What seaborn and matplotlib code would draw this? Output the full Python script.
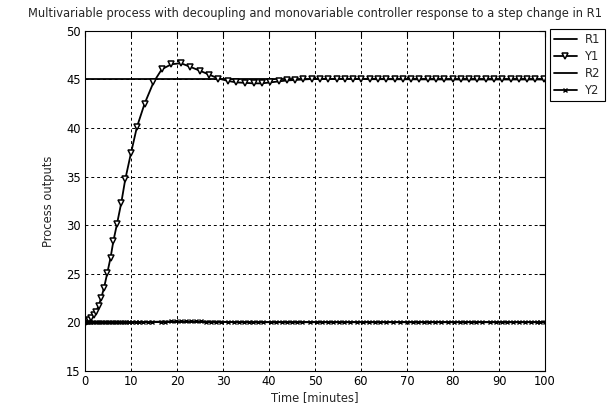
import matplotlib
matplotlib.use("Agg")
import matplotlib.pyplot as plt
import seaborn as sns

# ---- data ----
r1_t = [0, 100]
r1_v = [45, 45]
r2_t = [0, 100]
r2_v = [20, 20]

y1_t = [0.0, 0.3, 0.6, 0.9, 1.37, 1.96, 2.46, 2.96, 3.54, 4.13, 4.85, 5.57, 6.2, 6.96,
        7.9, 8.76, 10.0, 11.3, 12.96, 14.9, 16.7, 18.8, 20.9, 22.9, 25.0, 27.0, 29.0,
        31.1, 32.9, 34.9, 36.7, 38.5, 40.3, 42.1, 43.9, 45.7, 47.5, 49.3, 51.1, 52.9,
        54.7, 56.5, 58.3, 60.1, 61.9, 63.7, 65.5, 67.3, 69.1, 70.9, 72.7, 74.5, 76.3,
        78.1, 79.9, 81.7, 83.5, 85.3, 87.1, 88.9, 90.7, 92.5, 94.3, 96.1, 97.9, 99.7]
y1_v = [20.0, 20.02, 20.08, 20.2, 20.4, 20.7, 21.1, 21.7, 22.5, 23.5, 25.05, 26.65, 28.4, 30.1,
        32.3, 34.7, 37.4, 40.1, 42.5, 44.7, 46.05, 46.57, 46.67, 46.3, 45.9, 45.5, 45.1,
        44.85, 44.7, 44.65, 44.6, 44.6, 44.7, 44.8, 44.9, 44.95, 45.0, 45.05, 45.05, 45.05,
        45.05, 45.05, 45.05, 45.05, 45.03, 45.03, 45.03, 45.02, 45.02, 45.02, 45.01, 45.01, 45.01,
        45.0, 45.0, 45.0, 45.0, 45.0, 45.0, 45.0, 45.0, 45.0, 45.0, 45.0, 45.0, 45.0]

y2_t = [0.0, 0.3, 0.6, 1.0, 1.4, 1.8, 2.3, 2.8, 3.3, 3.8, 4.3, 4.8, 5.3, 5.8, 6.3, 6.8,
        7.3, 7.8, 8.4, 9.0, 9.6, 10.3, 11.0, 11.8, 12.6, 13.6, 14.5, 16.5, 17.5, 18.6,
        19.7, 20.8, 21.9, 23.0, 24.1, 25.2, 26.3, 27.4, 28.5, 29.6, 31.0, 32.5, 33.5,
        34.5, 35.6, 36.6, 37.6, 38.6, 40.5, 41.6, 42.8, 43.9, 45.0, 46.0, 47.1, 48.9,
        50.4, 51.6, 52.8, 54.0, 55.2, 56.4, 57.7, 59.2, 60.5, 61.7, 63.0, 64.2, 65.5,
        67.0, 68.5, 70.0, 71.2, 72.4, 73.6, 74.8, 76.0, 77.4, 79.0, 80.2, 81.5, 82.7,
        83.9, 85.1, 86.3, 88.0, 89.4, 90.6, 91.8, 93.0, 94.3, 95.6, 97.0, 98.2, 99.0, 100.0]
y2_v = [20.0, 20.0, 20.0, 20.0, 20.0, 20.0, 20.0, 20.0, 20.0, 20.0, 20.0, 20.0, 20.0, 20.0, 20.0, 20.0,
        20.0, 20.0, 20.0, 20.0, 20.0, 20.0, 20.0, 20.01, 20.02, 20.03, 20.04, 20.06, 20.07, 20.08,
        20.08, 20.08, 20.08, 20.08, 20.08, 20.08, 20.07, 20.07, 20.06, 20.05, 20.03, 20.02, 20.02,
        20.01, 20.01, 20.0, 20.0, 20.0, 20.0, 20.0, 20.0, 20.0, 20.0, 20.0, 20.0, 20.0,
        20.0, 20.0, 20.0, 20.0, 20.0, 20.0, 20.0, 20.0, 20.0, 20.0, 20.0, 20.0, 20.0,
        20.0, 20.0, 20.0, 20.0, 20.0, 20.0, 20.0, 20.0, 20.0, 20.0, 20.0, 20.0, 20.0,
        20.0, 20.0, 20.0, 20.0, 20.0, 20.0, 20.0, 20.0, 20.0, 20.0, 20.0, 20.0, 20.0, 20.0]

x_ticks = list(range(0, 101, 10))
y_ticks = list(range(15, 51, 5))
title = "Multivariable process with decoupling and monovariable controller response to a step change in R1"
x_label = "Time [minutes]"
y_label = "Process outputs"

# ---- style ----
sns.set_style("white")
plt.rcParams["font.family"] = ["DejaVu Sans"]
FS = 8.3
plt.rcParams["font.size"] = FS

fig = plt.figure(figsize=(6.11, 4.07), dpi=100)
ax = fig.add_axes([0.139, 0.089, 0.753, 0.835])

sns.lineplot(x=r1_t, y=r1_v, ax=ax, color="black", lw=1.3, label="R1",
             estimator=None, sort=False)
sns.lineplot(x=y1_t, y=y1_v, ax=ax, color="black", lw=1.3, marker="v", markersize=3.8,
             markerfacecolor="white", markeredgecolor="black", markeredgewidth=1.1,
             label="Y1", estimator=None, sort=False)
sns.lineplot(x=r2_t, y=r2_v, ax=ax, color="black", lw=1.3, label="R2",
             estimator=None, sort=False)
sns.lineplot(x=y2_t, y=y2_v, ax=ax, color="black", lw=1.3, marker="x", markersize=3.5,
             markeredgecolor="black", markeredgewidth=1.0, label="Y2",
             estimator=None, sort=False)

ax.set_xlim(0, 100)
ax.set_ylim(15, 50)
ax.set_xticks(x_ticks)
ax.set_yticks(y_ticks)
ax.grid(True, color="black", linestyle=(0, (3, 3)), linewidth=0.7)
ax.tick_params(direction="in", top=True, right=True, length=4, width=0.8,
               labelsize=FS, colors="black", pad=3)
for s in ax.spines.values():
    s.set_color("black")
    s.set_linewidth(0.8)

ax.set_title(title, fontsize=FS, pad=10)
ax.set_xlabel(x_label, fontsize=FS, labelpad=2)
ax.set_ylabel(y_label, fontsize=FS, labelpad=8)

handles, labels = ax.get_legend_handles_labels()
ax.legend_.remove()
leg = fig.legend(handles, labels, loc="upper left", bbox_to_anchor=(0.9, 0.928),
                 frameon=True, fancybox=False, framealpha=1, edgecolor="black",
                 fontsize=FS, handlelength=2.0, labelspacing=0.35, borderpad=0.35,
                 handletextpad=0.7, borderaxespad=0)
leg.get_frame().set_linewidth(0.8)

fig.savefig("out.png", dpi=100)
